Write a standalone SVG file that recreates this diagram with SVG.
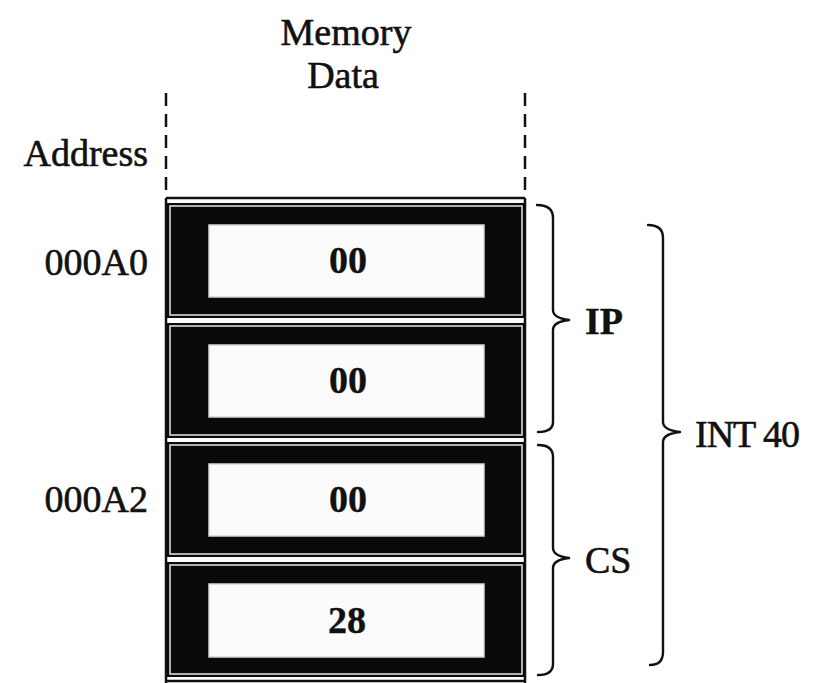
<svg xmlns="http://www.w3.org/2000/svg" width="816" height="683" viewBox="0 0 816 683">
<defs>
<style>
.t{font-family:"Liberation Serif","Times New Roman",serif;font-size:38px;fill:#111;stroke:#111;stroke-width:0.6}
.b{font-weight:bold;stroke-width:0.4}
.row{fill:#0a0a0a}
.inner{fill:none;stroke:#e8e8e8;stroke-width:1.5}
.cell{fill:#fbfbfb;stroke:#d8d8d8;stroke-width:1.5}
.brace{fill:none;stroke:#111;stroke-width:2.4;stroke-linecap:round;stroke-linejoin:round}
.frame{fill:none;stroke:#111;stroke-width:2.5}
</style>
</defs>
<rect width="816" height="683" fill="#fff"/>
<g id="headers">
<text class="t" x="346" y="45" text-anchor="middle">Memory</text>
<text class="t" x="343" y="88" text-anchor="middle">Data</text>
<text class="t" x="148" y="166" text-anchor="end">Address</text>
<text class="t" x="148" y="275" text-anchor="end">000A0</text>
<text class="t" x="148" y="512" text-anchor="end">000A2</text>
</g>
<g id="frame">
<line class="frame" x1="166" y1="93" x2="166" y2="198" stroke-dasharray="13 8"/>
<line class="frame" x1="525" y1="93" x2="525" y2="198" stroke-dasharray="13 8"/>
<line class="frame" x1="166" y1="198" x2="525" y2="198"/>
<line class="frame" x1="166" y1="198" x2="166" y2="683"/>
<line class="frame" x1="525" y1="198" x2="525" y2="683"/>
<line class="frame" x1="166" y1="681" x2="525" y2="681"/>
</g>
<g id="row1">
<rect class="row" x="167" y="203" width="358" height="115"/>
<rect class="inner" x="170" y="206" width="352" height="109"/>
<rect class="cell" x="209" y="225" width="275" height="72"/>
<text class="t b" x="348" y="273" text-anchor="middle">00</text>
</g>
<g id="row2">
<rect class="row" x="167" y="323" width="358" height="115"/>
<rect class="inner" x="170" y="326" width="352" height="109"/>
<rect class="cell" x="209" y="345" width="275" height="72"/>
<text class="t b" x="348" y="393" text-anchor="middle">00</text>
</g>
<g id="row3">
<rect class="row" x="167" y="442" width="358" height="115"/>
<rect class="inner" x="170" y="445" width="352" height="109"/>
<rect class="cell" x="209" y="464" width="275" height="72"/>
<text class="t b" x="348" y="512" text-anchor="middle">00</text>
</g>
<g id="row4">
<rect class="row" x="167" y="562" width="358" height="115"/>
<rect class="inner" x="170" y="565" width="352" height="109"/>
<rect class="cell" x="209" y="584" width="275" height="73"/>
<text class="t b" x="347" y="633" text-anchor="middle">28</text>
</g>
<g id="connectors">
<path class="brace" d="M537,205 Q553,205 553,218 L553,310 Q553,318 569,320 Q553,322 553,330 L553,422 Q553,432 538,432"/>
<path class="brace" d="M538,445 Q553,445 553,457 L553,548 Q553,556 569,558 Q553,560 553,568 L553,664 Q553,675 538,675"/>
<path class="brace" d="M648,225 Q663,225 663,238 L663,422 Q663,430 680,432 Q663,434 663,442 L663,652 Q663,665 650,665"/>
</g>
<g id="labels">
<text class="t b" x="585" y="334">IP</text>
<text class="t" x="585" y="573">CS</text>
<text class="t" x="695" y="447" letter-spacing="-1">INT 40</text>
</g>
</svg>
